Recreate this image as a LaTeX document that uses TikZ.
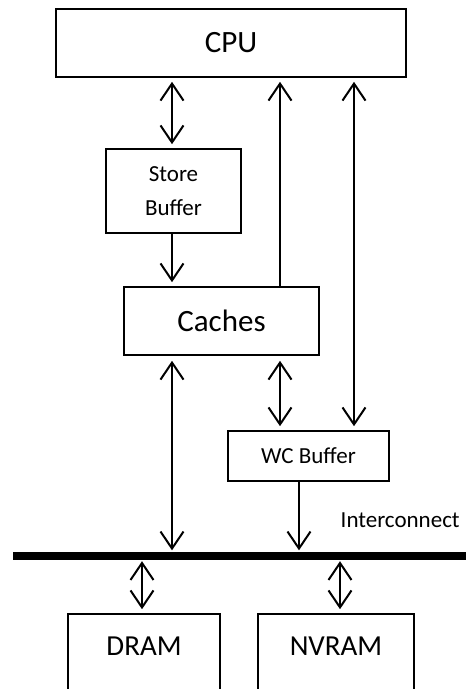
\documentclass[tikz,border=0pt]{standalone}
\usepackage{fontspec}
\setmainfont{Carlito}
\usepackage{tikz}
\usetikzlibrary{
    arrows.meta,
    positioning,
    calc
}
\tikzset{
    unitbox/.style={
        draw,
        line width=1.6pt,
        inner sep=0pt,
        align=center
    },
    link/.style={
        line width=2pt,
        >={Straight Barb[length=17pt,width=23pt]}
    },
    bigtext/.style={font=\fontsize{31}{37}\selectfont},
    midtext/.style={font=\fontsize{29}{34}\selectfont},
    smalltext/.style={font=\fontsize{23}{34}\selectfont}
}

\begin{document}
\begin{tikzpicture}[x=1pt,y=-1pt]
%
    \useasboundingbox (0,0) rectangle (466,689);
    \clip (0,0) rectangle (466,689);
%
    % Processor side
%
    \node[
        unitbox,
        bigtext,
        minimum width=350pt,
        minimum height=68pt
    ]
    (cpu) at (231,43) {CPU};
%
    \node[
        unitbox,
        smalltext,
        minimum width=135pt,
        minimum height=84pt
    ]
    (sbuf) at (173.5,191) {Store\\Buffer};
%
    \node[
        unitbox,
        bigtext,
        minimum width=195pt,
        minimum height=68pt
    ]
    (caches) at (221.5,321) {Caches};
%
    \node[
        unitbox,
        smalltext,
        minimum width=161pt,
        minimum height=50pt
    ]
    (wcbuf) at (308.5,456) {WC Buffer};
%
    % Interconnect and memories
%
    \node[
        fill=black,
        inner sep=0pt,
        minimum width=453pt,
        minimum height=8pt
    ]
    (bus) at (239.5,556) {};
%
    \node[
        smalltext,
        anchor=base east
    ]
    (icon) at ([xshift=-3pt,yshift=24pt]bus.north east) {Interconnect};
%
    \node[
        unitbox,
        minimum width=152pt,
        minimum height=100pt,
        label={[midtext,anchor=center,yshift=-33pt]north:DRAM}
    ]
    (dram) at (144,664) {};
%
    \node[
        unitbox,
        minimum width=156pt,
        minimum height=100pt,
        label={[midtext,anchor=center,yshift=-33pt]north:NVRAM}
    ]
    (nvram) at (336,664) {};
%
    % Connectors
%
    \coordinate (sbtop) at ([xshift=-1.5pt]sbuf.north);
    \coordinate (sbbot) at ([xshift=-1.5pt]sbuf.south);
    \coordinate (cachup) at ([xshift=58.5pt]caches.north);
    \coordinate (cachdn) at ([xshift=-49.5pt]caches.south);
    \coordinate (wcleft) at ([xshift=-28.5pt]wcbuf.north);
    \coordinate (wcright) at ([xshift=45.5pt]wcbuf.north);
    \coordinate (wcout) at ([xshift=-9.5pt]wcbuf.south);
    \coordinate (dramin) at ([xshift=-2pt]dram.north);
    \coordinate (nvramin) at ([xshift=4pt]nvram.north);
%
    \draw[link, <->, shorten <=4pt, shorten >=4pt]
        (sbtop) -- (sbtop |- cpu.south);
    \draw[link, ->, shorten >=4pt]
        (sbbot) -- (sbbot |- caches.north);
    \draw[link, ->, shorten >=4pt]
        (cachup) -- (cachup |- cpu.south);
    \draw[link, <->, shorten <=4pt, shorten >=4pt]
        (wcright) -- (wcright |- cpu.south);
    \draw[link, <->, shorten <=4pt, shorten >=5pt]
        (wcleft) -- (wcleft |- caches.south);
    \draw[link, <->, shorten <=5pt, shorten >=1.5pt]
        (cachdn) -- (cachdn |- bus.north);
    \draw[link, ->, shorten >=1.5pt]
        (wcout) -- (wcout |- bus.north);
    \draw[link, <->, shorten <=1pt, shorten >=4pt]
        (dramin |- bus.south) -- (dramin);
    \draw[link, <->, shorten <=1pt, shorten >=4pt]
        (nvramin |- bus.south) -- (nvramin);
%
\end{tikzpicture}
\end{document}
